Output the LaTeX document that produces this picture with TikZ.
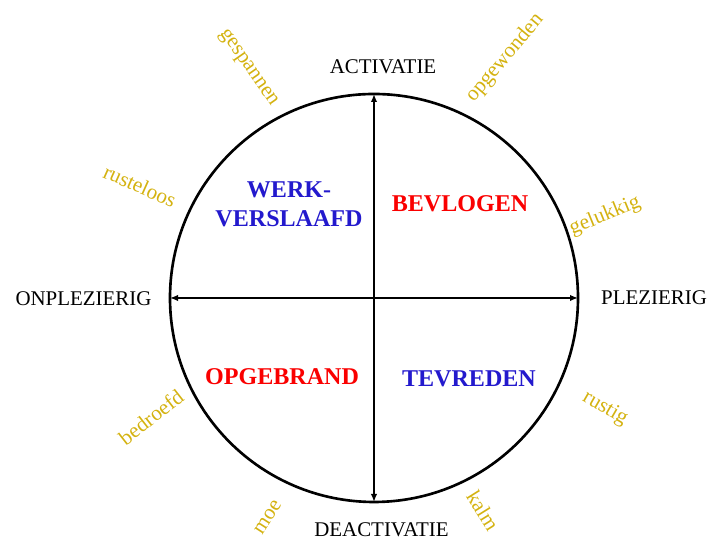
\documentclass[tikz,border=0pt]{standalone}
\usepackage{fontspec}
\setmainfont{Liberation Serif}
\usetikzlibrary{arrows.meta}
\definecolor{stemming}{RGB}{212,178,16}
\definecolor{kwadblauw}{RGB}{35,25,205}
\definecolor{kwadrood}{RGB}{250,0,0}

\begin{document}
\begin{tikzpicture}[
        aslabel/.style={font=\fontsize{11.9}{14}\selectfont},
        kwadrant/.style={font=\fontsize{13.7}{16.5}\selectfont\bfseries, align=center},
        gevoel/.style={text=stemming, font=\fontsize{12.1}{14}\selectfont},
        aspijl/.style={line width=1pt, {Latex[length=1.6mm,width=1.3mm]}-{Latex[length=1.6mm,width=1.3mm]}}
    ]
        \useasboundingbox (0,0) rectangle (14.2,10.78);

        % Cirkel
        \node[draw, circle, line width=1.5pt, minimum size=8.16cm, inner sep=0pt, outer sep=0pt] (kring) at (7.48,4.82) {};

        % Assen
        \draw[aspijl] (kring.north) -- (kring.south);
        \draw[aspijl] (kring.west) -- (kring.east);

        % Namen van de assen
        \node[aslabel] (activ) at (7.66,9.44) {ACTIVATIE};
        \node[aslabel] (deactiv) at (7.63,0.19) {DEACTIVATIE};
        \node[aslabel] (onplez) at (1.67,4.8) {ONPLEZIERIG};
        \node[aslabel] (plez) at (13.08,4.82) {PLEZIERIG};

        % Kwadranten
        \node[kwadrant, text=kwadblauw] (werk) at (5.78,6.69) {WERK-\\VERSLAAFD};
        \node[kwadrant, text=kwadrood] (bevlogen) at (9.2,6.7) {BEVLOGEN};
        \node[kwadrant, text=kwadrood] (opgebrand) at (5.64,3.24) {OPGEBRAND};
        \node[kwadrant, text=kwadblauw] (tevreden) at (9.38,3.2) {TEVREDEN};

        % Gevoelens rond de cirkel
        \node[gevoel, rotate=-55] (gespannen) at (4.96,9.42) {gespannen};
        \node[gevoel, rotate=50] (opgewonden) at (10.1,9.62) {opgewonden};
        \node[gevoel, rotate=-24] (rusteloos) at (2.8,7.06) {rusteloos};
        \node[gevoel, rotate=22] (gelukkig) at (12.1,6.46) {gelukkig};
        \node[gevoel, rotate=38] (bedroefd) at (3.02,2.44) {bedroefd};
        \node[gevoel, rotate=-30] (rustig) at (12.1,2.6) {rustig};
        \node[gevoel, rotate=57] (moe) at (5.36,0.44) {moe};
        \node[gevoel, rotate=-58] (kalm) at (9.66,0.56) {kalm};
\end{tikzpicture}
\end{document}
